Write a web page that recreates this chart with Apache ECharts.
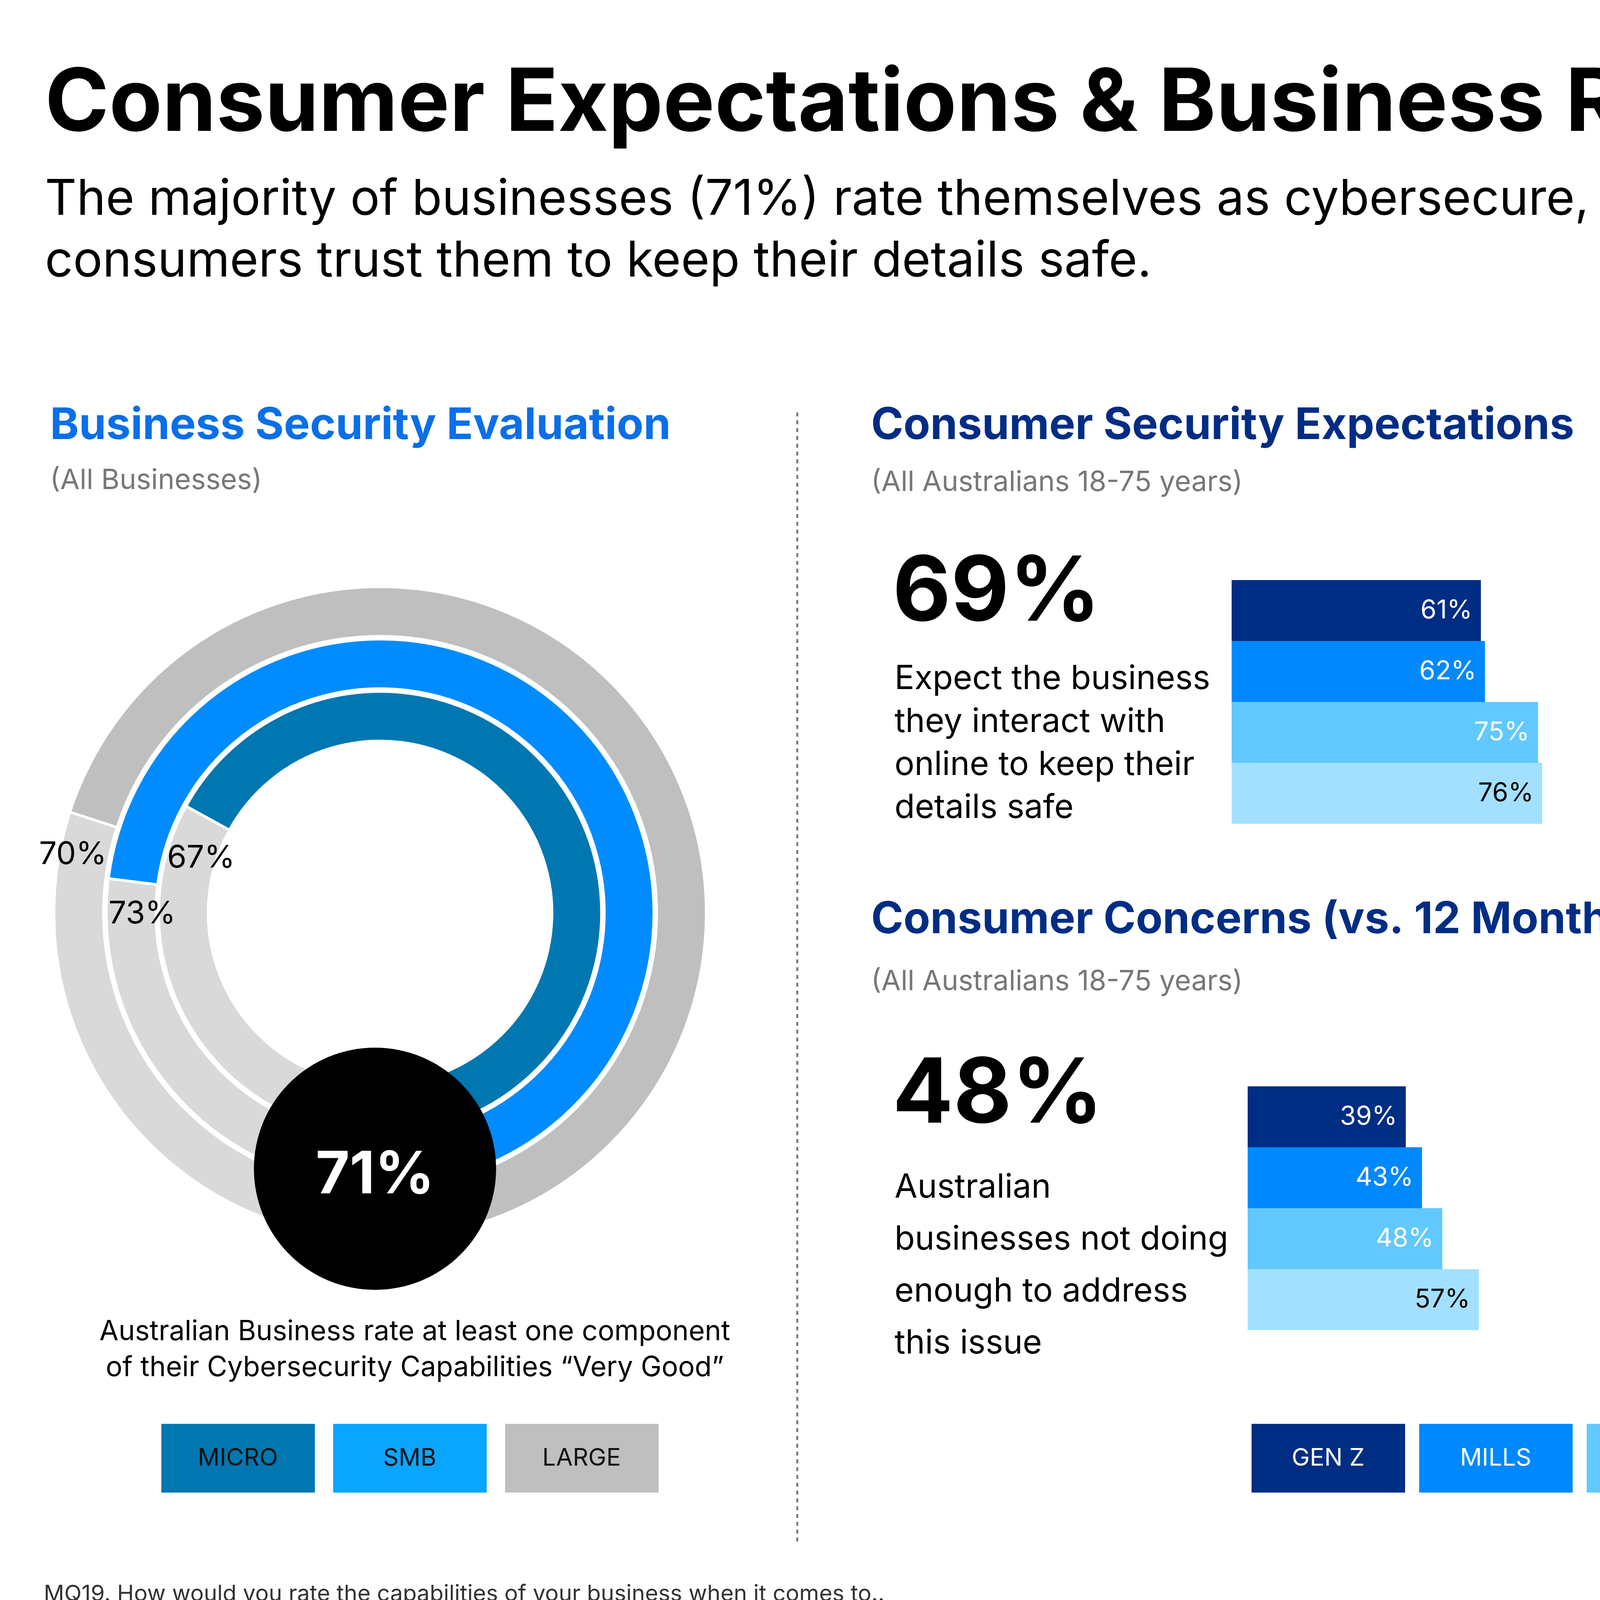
<!DOCTYPE html>
<html>
<head>
<meta charset="utf-8">
<script src="https://cdn.jsdelivr.net/npm/echarts@6/dist/echarts.min.js"></script>
<style>html,body{margin:0;padding:0;background:#fff}#chart{width:8000px;height:4500px}</style>
</head>
<body>
<div id="chart"></div>
<script>
// donut: business segments
var segNames = ['MICRO', 'SMB', 'LARGE'];
var segValues = [67, 73, 70];
var segColors = ['#0077b0', '#008cff', '#bfbfbf'];
var segLegendColors = ['#0077b0', '#0aa5ff', '#bfbfbf'];
var overallValue = 71;

// generations
var genNames = ['GEN Z', 'MILLS', 'GEN X', 'BOOMER'];
var genColors = ['#002d84', '#0088ff', '#61c9ff', '#a3e0ff'];
var genLabelColors = ['#fff', '#fff', '#fff', '#000'];
var expectValues = [61, 62, 75, 76];
var trustValues = [28, 32, 24, 29];
var concernValues = [39, 43, 48, 57];

var FONT = 'Inter';

var chart = echarts.init(document.getElementById('chart'));

function txt(x, y, text, size, opts) {
	opts = opts || {};
	return {
		type : 'text',
		x : x,
		y : y,
		z : 200,
		style : {
			text : text,
			fontSize : size,
			fontFamily : FONT,
			fontWeight : opts.weight || 'normal',
			fill : opts.color || '#000',
			align : opts.align || 'left',
			verticalAlign : 'middle',
			lineHeight : opts.lh || size * 1.2
		}
	};
}

function barSeries(values, gridIndex) {
	var data = [];
	for (var i = 0; i < values.length; i++) {
		data.push({
			value : values[i],
			itemStyle : { color : genColors[i] },
			label : { color : genLabelColors[i] }
		});
	}
	return {
		type : 'bar',
		xAxisIndex : gridIndex,
		yAxisIndex : gridIndex,
		barCategoryGap : 0,
		data : data,
		label : {
			show : true,
			position : 'insideRight',
			formatter : '{c}%',
			fontSize : 66,
			fontFamily : FONT,
			distance : 22
		},
		silent : true
	};
}

function donutSeries(i, radius) {
	return {
		type : 'pie',
		center : [973, 2337],
		radius : radius,
		startAngle : -90,
		clockwise : false,
		silent : true,
		label : { show : false },
		itemStyle : { borderColor : '#fff', borderWidth : 7 },
		data : [
			{ name : segNames[i], value : segValues[i], itemStyle : { color : segColors[i] } },
			{ name : 'rest', value : 100 - segValues[i], itemStyle : { color : '#d9d9d9' } }
		]
	};
}

var grids = [
	{ left : 3153, top : 1485, width : 1046, height : 624 },
	{ left : 5133, top : 1485, width : 1046, height : 624 },
	{ left : 3194, top : 2781, width : 1038, height : 624 }
];
var xAxes = [], yAxes = [];
for (var g = 0; g < 3; g++) {
	xAxes.push({ type : 'value', gridIndex : g, min : 0, max : 100, show : false });
	yAxes.push({ type : 'category', gridIndex : g, data : genNames, inverse : true, show : false });
}

var graphics = [
	{ type : 'rect', shape : { x : 6133, y : 0, width : 1867, height : 4500 }, style : { fill : '#e9ecef' }, z : -10 },
	txt(115, 268, 'Consumer Expectations & Business Readiness', 222, { weight : 'bold' }),
	txt(115, 512, 'The majority of businesses (71%) rate themselves as cybersecure, however only 29% of Australian', 126),
	txt(115, 670, 'consumers trust them to keep their details safe.', 126),

	txt(128, 1090, 'Business Security Evaluation', 112, { weight : 'bold', color : '#0a6fe8' }),
	txt(128, 1230, '(All Businesses)', 72, { color : '#777' }),
	{ type : 'line', shape : { x1 : 2041, y1 : 1056, x2 : 2041, y2 : 3955 }, style : { stroke : '#777', lineWidth : 5, lineDash : [10, 10] } },

	txt(100, 2188, segValues[2] + '%', 80),
	txt(428, 2197, segValues[0] + '%', 80),
	txt(278, 2340, segValues[1] + '%', 80),
	{ type : 'circle', shape : { cx : 960, cy : 2992, r : 310 }, style : { fill : '#000' }, z : 100 },
	txt(960, 3010, overallValue + '%', 150, { weight : 'bold', color : '#fff', align : 'center' }),
	txt(1062, 3410, 'Australian Business rate at least one component', 71, { align : 'center' }),
	txt(1062, 3502, 'of their Cybersecurity Capabilities \u201cVery Good\u201d', 71, { align : 'center' }),

	txt(2230, 1090, 'Consumer Security Expectations', 112, { weight : 'bold', color : '#002d84' }),
	txt(2230, 1235, '(All Australians 18-75 years)', 72, { color : '#777' }),
	txt(2285, 1520, '69%', 230, { weight : 'bold' }),
	txt(2290, 1903, 'Expect the business\nthey interact with\nonline to keep their\ndetails safe', 85, { lh : 110 }),
	txt(4270, 1520, '29%', 230, { weight : 'bold' }),
	txt(4275, 1850, 'I trust Australian\nbusinesses to keep\nmy details safe', 85, { lh : 110 }),

	txt(2230, 2355, 'Consumer Concerns (vs. 12 Months Ago)', 112, { weight : 'bold', color : '#002d84' }),
	txt(2230, 2513, '(All Australians 18-75 years)', 72, { color : '#777' }),
	txt(2285, 2805, '48%', 230, { weight : 'bold' }),
	txt(2290, 3240, 'Australian\nbusinesses not doing\nenough to address\nthis issue', 85, { lh : 133 }),

	txt(112, 4082, 'MQ19. How would you rate the capabilities of your business when it comes to..', 58, { color : '#333' }),
	txt(112, 4157, 'CQ27. Thinking about keeping your details safe and secure online, which, if any, of the following do you agree with?', 58, { color : '#333' }),
	txt(112, 4231, 'CQ24. Thinking about these, how has your level of concern about the following changed over the past 12 months?', 58, { color : '#333' }),
	txt(112, 4306, 'BASE: C: All Australians 18-75 n=1022, Gen Z (18-27) n=89, Millennials (28-43) n=298, Gen X (44-59) n=313, Boomer (60-75) n=322', 58, { color : '#333' }),
	txt(112, 4380, 'M: Businesses that sell partially or wholly online n=413, Micro (<$99k) n=94, SMB ($100k - $10m) n=259, Large ($10m+) n=60', 58, { color : '#333' }),
	txt(7847, 4348, '25', 40, { color : '#555', align : 'center' }),

	txt(6235, 255, 'Security', 107, { weight : 'bold' }),
	txt(6235, 720, 'Most Australian businesses (71%) rate\nthemselves as \u2018very good\u2019 in at least one\ncomponent of their cybersecurity\ncapabilities.', 80, { lh : 120 }),
	txt(6235, 1357, 'However, consumer attitudes don\u2019t match\nup with business self-assessment. Only\n29% of Australian consumers trust\nAustralian businesses to keep their details\nsafe.', 80, { lh : 120 }),
	txt(6235, 2120, 'Around two-thirds of consumers (69%)\nexpect the businesses they deal with\nonline to keep their details safe, and\nalmost half (48%) are more concerned\nthat Australian businesses are not doing\nenough to address data security.', 80, { lh : 120 })
];

// legend boxes
for (var i = 0; i < segNames.length; i++) {
	var lx = 413 + i * 440;
	graphics.push({ type : 'rect', shape : { x : lx, y : 3645, width : 393, height : 176 }, style : { fill : segLegendColors[i] } });
	graphics.push(txt(lx + 196, 3733, segNames[i], 62, { align : 'center', color : '#111' }));
}
for (var j = 0; j < genNames.length; j++) {
	var gx = 3204 + j * 429;
	graphics.push({ type : 'rect', shape : { x : gx, y : 3645, width : 393, height : 176 }, style : { fill : genColors[j] } });
	graphics.push(txt(gx + 196, 3733, genNames[j], 62, { align : 'center', color : genLabelColors[j] }));
}

var option = {
	backgroundColor : '#fff',
	animation : false,
	textStyle : { fontFamily : FONT },
	grid : grids,
	xAxis : xAxes,
	yAxis : yAxes,
	series : [
		donutSeries(2, [708, 835]),
		donutSeries(1, [574, 701]),
		donutSeries(0, [440, 567]),
		barSeries(expectValues, 0),
		barSeries(trustValues, 1),
		barSeries(concernValues, 2)
	],
	graphic : graphics
};
chart.setOption(option);
</script>
</body>
</html>
